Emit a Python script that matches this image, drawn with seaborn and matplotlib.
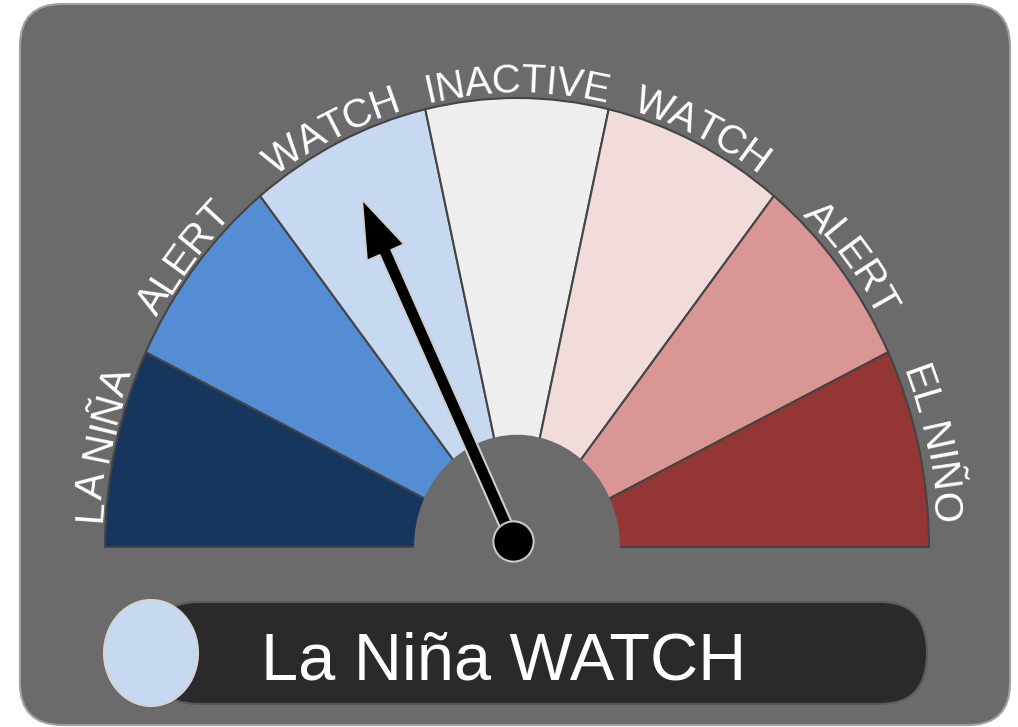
import numpy as np
import matplotlib
matplotlib.use("Agg")
import matplotlib.pyplot as plt
import seaborn as sns
from matplotlib.patches import Wedge, Circle, Ellipse, FancyBboxPatch
from matplotlib.font_manager import FontProperties, findfont, get_font

# ENSO alert stages, left (La Niña) to right (El Niño)
STAGES = ["LA NIÑA", "ALERT", "WATCH", "INACTIVE", "WATCH", "ALERT", "EL NIÑO"]
STAGE_COLORS = ["#17365d", "#548dd4", "#c6d9f0", "#eeeeee", "#f2dcdb", "#d99694", "#943634"]
CURRENT = 2                      # index of the active stage
STATUS_TEXT = "La Niña WATCH"

FONT = "Liberation Sans"
BG = "#6b6b6b"
RX, RY = 412, 449                # pixels per data unit (image is a bit taller than wide)
CX, CY = 517, 547                # gauge centre in pixels
W_PX, H_PX = 1018, 727

sns.set_theme(style="white")
plt.rcParams["font.family"] = [FONT, "DejaVu Sans"]
palette = sns.color_palette(STAGE_COLORS)


def px(x, y):
    """pixel position -> data units"""
    return (x - CX) / RX, (CY - y) / RY


def arc_text(ax, label, t_mid, radius, size):
    """write label letter by letter along the gauge rim, centred on t_mid (deg)"""
    font = get_font(findfont(FontProperties(family=FONT)))
    font.set_size(size, ax.figure.dpi)
    adv = np.array([font.load_char(ord(c)).linearHoriAdvance / 65536 for c in label])
    centres = np.cumsum(adv) - adv / 2 - adv.sum() / 2

    r_mid = radius + 0.03
    t = np.radians(np.linspace(t_mid + 60, t_mid - 60, 2401))
    ds = np.hypot(RX * r_mid * np.sin(t), RY * r_mid * np.cos(t))
    s = np.concatenate([[0], np.cumsum((ds[1:] + ds[:-1]) / 2 * np.abs(np.diff(t)))])
    s -= s[1200]
    for ch, c in zip(label, centres):
        ang = np.interp(c, s, t)
        ax.text(radius * np.cos(ang), radius * np.sin(ang), ch,
                rotation=np.degrees(ang) - 90, rotation_mode="anchor",
                transform_rotates_text=True, ha="center", va="baseline",
                color="white", fontsize=size, zorder=4)


fig = plt.figure(figsize=(W_PX / 100, H_PX / 100), dpi=100, facecolor="white")
ax = fig.add_axes([0, 0, 1, 1])
ax.set_xlim(-CX / RX, (W_PX - CX) / RX)
ax.set_ylim((CY - H_PX) / RY, CY / RY)
ax.axis("off")

# rounded grey panel
x0, y0 = px(20, 725)
x1, y1 = px(1010, 4)
ax.add_patch(FancyBboxPatch((x0, y0), x1 - x0, y1 - y0,
                            boxstyle="round,pad=0,rounding_size=0.102",
                            mutation_aspect=0.917, fc=BG, ec="#a0a0a0", lw=1.5, zorder=0))

# gauge segments
n = len(STAGES)
step = 180 / n
for i, col in enumerate(palette):
    ax.add_patch(Wedge((0, 0), 1.0, 180 - (i + 1) * step, 180 - i * step,
                       fc=col, ec="#454545", lw=1.5, zorder=1))
ax.add_patch(Circle((0, 0), 0.25, fc=BG, ec="none", zorder=2))

# curved labels
for i, lab in enumerate(STAGES):
    arc_text(ax, lab, 180 - (i + 0.5) * step, 1.012, 29)

# needle
pivot = px(513, 541)
ang = np.radians(180 - (CURRENT + 0.5) * step)
tip = (pivot[0] + 0.845 * np.cos(ang), pivot[1] + 0.845 * np.sin(ang))
ax.annotate("", xy=tip, xytext=pivot, zorder=5,
            arrowprops=dict(arrowstyle="simple,head_length=1.0,head_width=0.7,tail_width=0.22",
                            mutation_scale=42, fc="black", ec="#cfcfcf", lw=1.5,
                            shrinkA=0, shrinkB=0))
ax.plot(*pivot, "o", ms=29, mfc="black", mec="#c8c8c8", mew=1.5, zorder=6)

# status pill
bx0, by0 = px(151, 704)
bx1, by1 = px(927, 602)
ax.add_patch(FancyBboxPatch((bx0, by0), bx1 - bx0, by1 - by0,
                            boxstyle="round,pad=0,rounding_size=0.1136",
                            fc="#2a2a2a", ec="#5a5a5a", lw=1.5, zorder=3))
ax.add_patch(Ellipse(px(151, 653), 94 / RX, 106 / RY, fc=palette[CURRENT],
                     ec="#d4d4d4", lw=1.5, zorder=4))
ax.text(*px(261, 680), STATUS_TEXT, color="white", fontsize=48,
        ha="left", va="baseline", zorder=4)

fig.savefig("out.png", dpi=100, facecolor="white")
